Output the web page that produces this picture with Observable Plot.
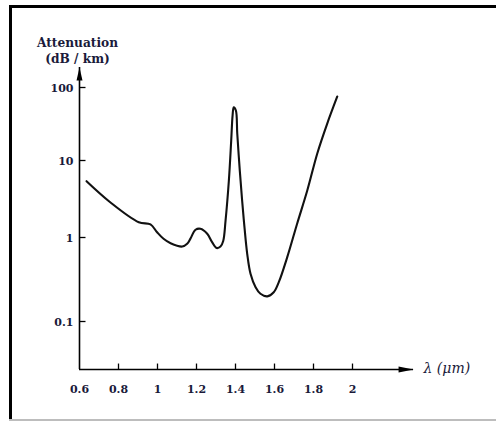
<!DOCTYPE html>
<html><head><meta charset="utf-8">
<script src="https://cdn.jsdelivr.net/npm/d3@7"></script>
<script src="https://cdn.jsdelivr.net/npm/@observablehq/plot@0.6"></script>
<style>
html,body{margin:0;padding:0;background:#fff;overflow:hidden;}
#wrap{position:relative;width:496px;height:421px;overflow:hidden;}
.bar{position:absolute;pointer-events:none;}
#bTop{left:9px;top:5px;width:487px;height:3px;background:#000;}
#bLeft{left:9px;top:5px;width:3px;height:416px;background:#000;}
#bBottom{left:9px;top:419px;width:487px;height:2px;background:#bdbdbd;}
#chart{position:absolute;left:0;top:0;width:496px;height:421px;}
</style></head><body>
<div id="wrap"><div id="chart"></div><div class="bar" id="bTop"></div><div class="bar" id="bLeft"></div><div class="bar" id="bBottom"></div></div>
<script>
// Curve: wavelength (µm) vs attenuation (dB/km)
const wavelength = [0.636,0.759,0.904,0.964,0.998,1.031,1.067,1.127,1.152,1.169,1.195,1.220,1.255,1.280,1.303,1.323,1.337,1.349,1.366,1.378,1.385,1.391,1.402,1.409,1.422,1.434,1.446,1.460,1.477,1.503,1.528,1.563,1.596,1.622,1.665,1.716,1.768,1.819,1.870,1.922];
const attenuation = [5.38,2.85,1.58,1.48,1.17,0.965,0.855,0.78,0.84,0.97,1.26,1.30,1.12,0.88,0.75,0.78,0.91,1.66,5.5,18.8,41.3,53.7,48.4,23.4,7.4,3.02,1.36,0.64,0.37,0.256,0.214,0.199,0.223,0.294,0.58,1.51,4.07,12.4,31.8,75.3];

// Axis ticks and labels
const xTickValues = [0.8, 1, 1.2, 1.4, 1.6, 1.8, 2];
const xLabelValues = [0.6, 0.8, 1, 1.2, 1.4, 1.6, 1.8, 2];
const xLabelTexts = ["0.6", "0.8", "1", "1.2", "1.4", "1.6", "1.8", "2"];
const yTickValues = [100, 10, 1, 0.1];
const yLabelTexts = ["100", "10", "1", "0.1"];
const yTitleLines = ["Attenuation", "(dB / km)"];
const xTitle = "λ (μm)";

// Axis extents (origin and arrow tips, in data units)
const xOrigin = 0.6, xEnd = 2.313;
const yBottom = 0.0268, yTop = 188;

const curve = wavelength.map((w, i) => ({w, a: attenuation[i]}));
const xTicks = xTickValues.map(v => ({v}));
const xLabels = xLabelValues.map((v, i) => ({v, t: xLabelTexts[i]}));
const yTicks = yTickValues.map((v, i) => ({v, t: yLabelTexts[i]}));

const tickUp = {draw(c) { c.moveTo(0, 0); c.lineTo(0, -6); }};
const tickRight = {draw(c) { c.moveTo(0, 0); c.lineTo(6, 0); }};
const headUp = {draw(c) { c.moveTo(0, 0); c.lineTo(-3, 13); c.lineTo(3, 13); c.closePath(); }};
const headRight = {draw(c) { c.moveTo(0, 0); c.lineTo(-15, -3); c.lineTo(-15, 3); c.closePath(); }};

const ink = "#1a1a3a";

const chart = Plot.plot({
  width: 496, height: 421,
  marginTop: 0, marginRight: 0, marginBottom: 0, marginLeft: 0,
  style: {fontFamily: "DejaVu Serif", background: "transparent"},
  x: {domain: [0.6, 2], range: [79, 352], axis: null},
  y: {type: "log", domain: [0.1, 1, 10, 100], range: [321, 237, 160, 87], axis: null},
  marks: [
    Plot.ruleX([xOrigin], {y1: yBottom, y2: yTop, stroke: "#000", strokeWidth: 1.6}),
    Plot.ruleY([yBottom], {x1: xOrigin, x2: xEnd, stroke: "#000", strokeWidth: 1.6}),
    Plot.dot([{x: xOrigin, y: yTop}], {x: "x", y: "y", symbol: headUp, fill: "#000", stroke: "none"}),
    Plot.dot([{x: xEnd, y: yBottom}], {x: "x", y: "y", symbol: headRight, fill: "#000", stroke: "none"}),
    Plot.dot(xTicks, {x: "v", y: () => yBottom, symbol: tickUp, stroke: "#000", strokeWidth: 1.3, fill: "none"}),
    Plot.dot(yTicks, {x: () => xOrigin, y: "v", symbol: tickRight, stroke: "#000", strokeWidth: 1.3, fill: "none"}),
    Plot.text(xLabels, {x: "v", y: () => yBottom, text: "t", dy: 19.5, fontSize: 11, fontWeight: "bold", fill: ink, textAnchor: "middle"}),
    Plot.text(yTicks, {x: () => xOrigin, y: "v", text: "t", dx: -6, dy: 1, fontSize: 11, fontWeight: "bold", fill: ink, textAnchor: "end"}),
    Plot.text([yTitleLines[0]], {frameAnchor: "top-left", dx: 77, dy: 38.3, text: d => d, fontSize: 12.2, fontWeight: "bold", fill: ink, textAnchor: "middle"}),
    Plot.text([yTitleLines[1]], {frameAnchor: "top-left", dx: 77, dy: 53.5, text: d => d, fontSize: 12.2, fontWeight: "bold", fill: ink, textAnchor: "middle"}),
    Plot.text([xTitle], {x: () => xEnd, y: () => yBottom, text: d => d, dx: 10, dy: -1.5, fontSize: 14, fontStyle: "italic", fill: ink, textAnchor: "start"}),
    Plot.line(curve, {x: "w", y: "a", curve: "catmull-rom", stroke: "#111", strokeWidth: 2.1})
  ]
});
document.getElementById("chart").appendChild(chart);
</script>
</body></html>
